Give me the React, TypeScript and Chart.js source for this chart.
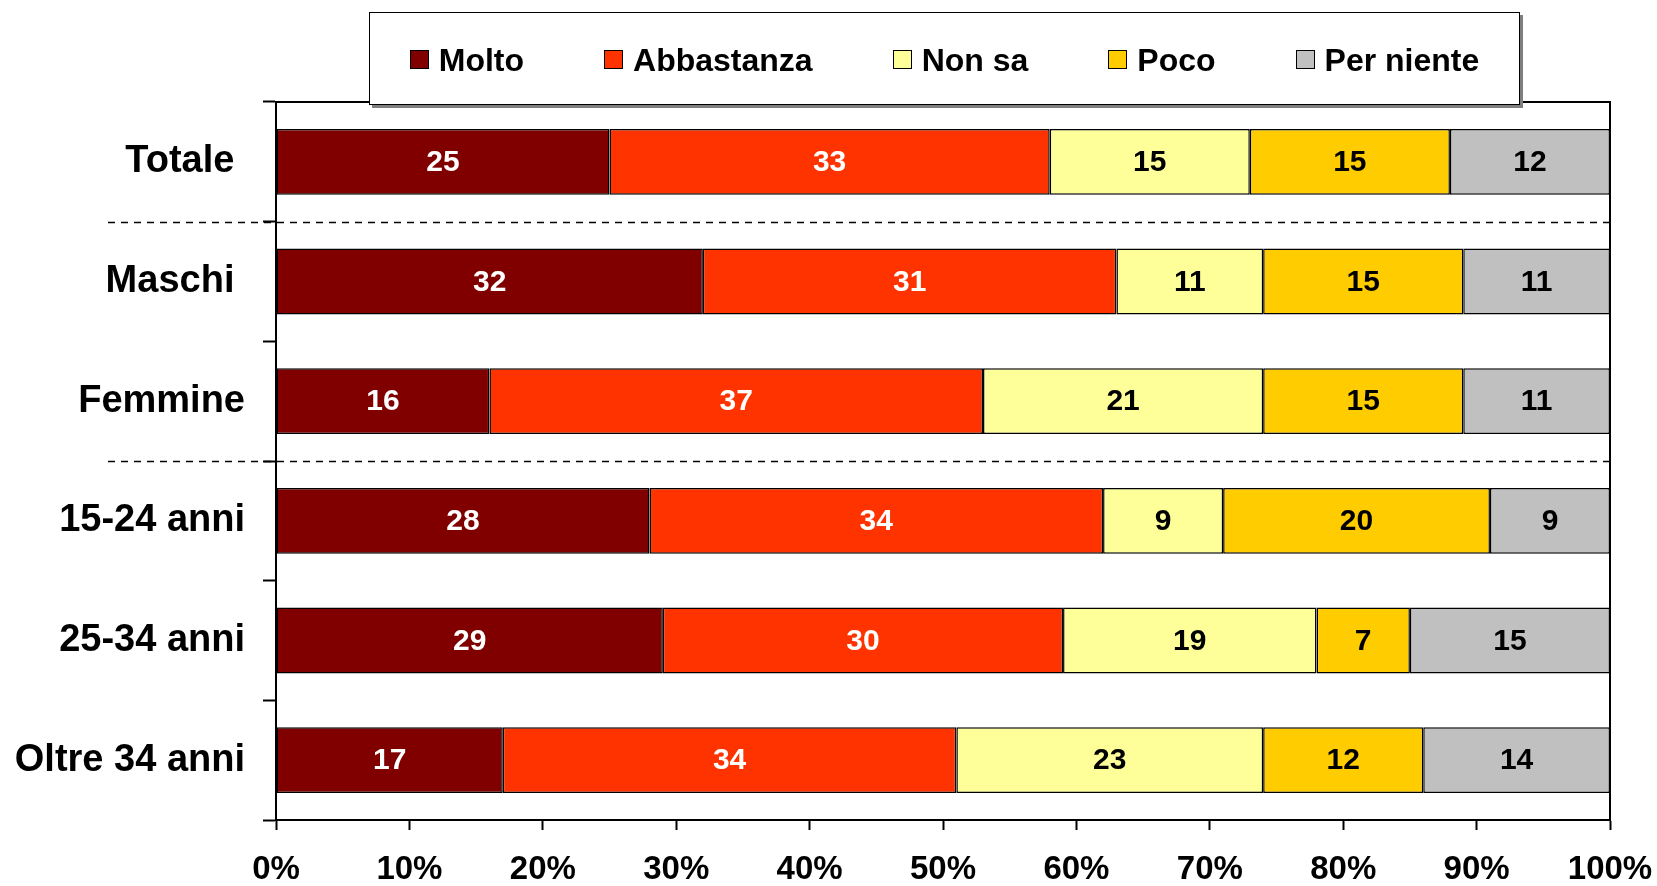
import React, { useEffect, useRef } from "react";
import { Chart, registerables } from "chart.js";

Chart.register(...registerables);

// ---- data ----
const categories = ["Totale ", "Maschi ", "Femmine", "15-24 anni", "25-34 anni", "Oltre 34 anni"];
const seriesNames = ["Molto", "Abbastanza", "Non sa", "Poco", "Per niente"];
const molto = [25, 32, 16, 28, 29, 17];
const abbastanza = [33, 31, 37, 34, 30, 34];
const nonSa = [15, 11, 21, 9, 19, 23];
const poco = [15, 15, 15, 20, 7, 12];
const perNiente = [12, 11, 11, 9, 15, 14];
const seriesValues = [molto, abbastanza, nonSa, poco, perNiente];
const seriesColors = ["#800000", "#FF3300", "#FFFF99", "#FFCC00", "#C0C0C0"];
const valueLabelColors = ["#FFFFFF", "#FFFFFF", "#000000", "#000000", "#000000"];
const xTickSuffix = "%";
const separatorsAfter = [0, 2];

const FONT = "'Liberation Sans', Arial, Helvetica, sans-serif";

const overlayPlugin = {
  id: "overlay",
  afterDatasetsDraw(chart: any) {
    const { ctx, chartArea: a, scales } = chart;
    ctx.save();
    // value labels
    ctx.font = `bold 30px ${FONT}`;
    ctx.textAlign = "center";
    ctx.textBaseline = "middle";
    chart.data.datasets.forEach((ds: any, di: number) => {
      const meta = chart.getDatasetMeta(di);
      meta.data.forEach((el: any, i: number) => {
        const p = el.getCenterPoint();
        ctx.fillStyle = valueLabelColors[di];
        ctx.fillText(String(ds.data[i]), p.x, p.y + 1);
      });
    });
    // plot frame
    ctx.strokeStyle = "#000";
    ctx.lineWidth = 2;
    ctx.strokeRect(a.left, a.top, a.right - a.left, a.bottom - a.top);
    // dashed separators
    const ys = scales.y;
    ctx.setLineDash([7, 6]);
    ctx.lineWidth = 1.6;
    ctx.strokeStyle = "#000";
    separatorsAfter.forEach((i) => {
      const py = Math.round((ys.getPixelForValue(i) + ys.getPixelForValue(i + 1)) / 2) + 0.5;
      ctx.beginPath();
      ctx.moveTo(a.left - 168, py);
      ctx.lineTo(a.right, py);
      ctx.stroke();
    });
    ctx.restore();
  },
};

export default function App() {
  const canvasRef = useRef<HTMLCanvasElement | null>(null);

  useEffect(() => {
    if (!canvasRef.current) return;
    const chart = new Chart(canvasRef.current, {
      type: "bar",
      data: {
        labels: categories,
        datasets: seriesNames.map((name, i) => ({
          label: name,
          data: seriesValues[i],
          backgroundColor: seriesColors[i],
          borderColor: "#000000",
          borderWidth: 1.5,
          borderSkipped: false,
          barPercentage: 0.55,
          categoryPercentage: 1,
        })),
      },
      options: {
        indexAxis: "y",
        responsive: true,
        maintainAspectRatio: false,
        animation: false,
        layout: { padding: { left: 0, right: 47, top: 102, bottom: 0 } },
        plugins: {
          legend: { display: false },
          tooltip: { enabled: false },
          title: { display: false },
        },
        scales: {
          x: {
            stacked: true,
            min: 0,
            max: 100,
            afterFit: (s: any) => {
              s.height = 66;
              s.paddingLeft = 0;
              s.paddingRight = 0;
            },
            ticks: {
              stepSize: 10,
              padding: 20,
              color: "#000",
              font: { family: FONT, size: 33, weight: "bold" },
              callback: (v: any) => `${v}${xTickSuffix}`,
              maxRotation: 0,
            },
            grid: {
              display: true,
              drawOnChartArea: false,
              tickLength: 10,
              tickWidth: 2,
              tickColor: "#000",
            },
            border: { display: true, color: "#000", width: 2 },
          },
          y: {
            stacked: true,
            afterFit: (s: any) => {
              s.width = 276;
            },
            ticks: {
              padding: 18,
              color: "#000",
              font: { family: FONT, size: 38, weight: "bold" },
            },
            grid: {
              display: true,
              offset: true,
              drawOnChartArea: false,
              tickLength: 13,
              tickWidth: 2,
              tickColor: "#000",
            },
            border: { display: true, color: "#000", width: 2 },
          },
        },
      },
      plugins: [overlayPlugin],
    } as any);
    return () => chart.destroy();
  }, []);

  return (
    <div
      style={{
        position: "fixed",
        left: 0,
        top: 0,
        width: 1657,
        height: 886,
        background: "#fff",
        fontFamily: FONT,
      }}
    >
      <canvas ref={canvasRef} />
      <div
        style={{
          position: "absolute",
          left: 369,
          top: 12,
          width: 1151,
          height: 93,
          boxSizing: "border-box",
          border: "1.5px solid #000",
          boxShadow: "3px 3px 0 #7f7f7f",
          background: "#fff",
          display: "flex",
          alignItems: "center",
          justifyContent: "center",
          gap: 80,
          paddingTop: 2,
        }}
      >
        {seriesNames.map((name, i) => (
          <div key={name} style={{ display: "flex", alignItems: "center", gap: 10 }}>
            <span
              style={{
                display: "inline-block",
                width: 19,
                height: 19,
                boxSizing: "border-box",
                border: "1.5px solid #000",
                background: seriesColors[i],
              }}
            />
            <span style={{ fontSize: 32, fontWeight: "bold", color: "#000", lineHeight: 1 }}>{name}</span>
          </div>
        ))}
      </div>
    </div>
  );
}
